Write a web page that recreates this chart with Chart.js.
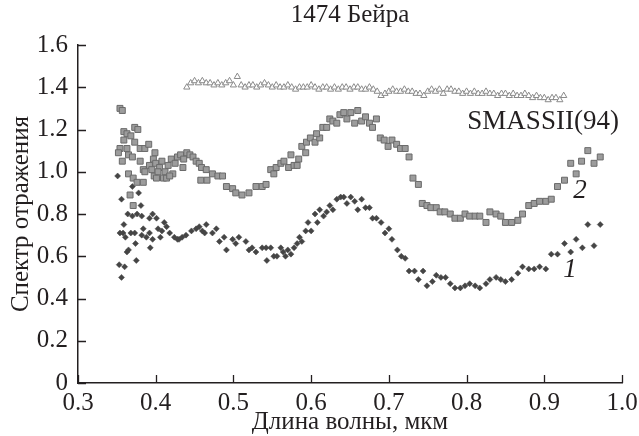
<!DOCTYPE html>
<html>
<head>
<meta charset="utf-8">
<script src="https://cdn.jsdelivr.net/npm/chart.js"></script>
<style>
  body { margin: 0; background: #fff; }
</style>
</head>
<body>
<canvas id="myChart" width="639" height="436"></canvas>
<script>
// SMASSII(94) spectrum (triangles)
const smassWl = [0.440, 0.445, 0.450, 0.455, 0.460, 0.465, 0.470, 0.475, 0.480, 0.485,
  0.490, 0.495, 0.500, 0.505, 0.510, 0.515, 0.520, 0.525, 0.530, 0.535,
  0.540, 0.545, 0.550, 0.555, 0.560, 0.565, 0.570, 0.575, 0.580, 0.585,
  0.590, 0.595, 0.600, 0.605, 0.610, 0.615, 0.620, 0.625, 0.630, 0.635,
  0.640, 0.645, 0.650, 0.655, 0.660, 0.665, 0.670, 0.675, 0.680, 0.685,
  0.690, 0.695, 0.700, 0.705, 0.710, 0.715, 0.720, 0.725, 0.730, 0.735,
  0.740, 0.745, 0.750, 0.755, 0.760, 0.765, 0.770, 0.775, 0.780, 0.785,
  0.790, 0.795, 0.800, 0.805, 0.810, 0.815, 0.820, 0.825, 0.830, 0.835,
  0.840, 0.845, 0.850, 0.855, 0.860, 0.865, 0.870, 0.875, 0.880, 0.885,
  0.890, 0.895, 0.900, 0.905, 0.910, 0.915, 0.920, 0.925];
const smassRefl = [1.40, 1.42, 1.43, 1.42, 1.43, 1.42, 1.42, 1.41, 1.42, 1.41,
  1.42, 1.43, 1.41, 1.45, 1.41, 1.40, 1.41, 1.41, 1.40, 1.41,
  1.42, 1.41, 1.40, 1.41, 1.40, 1.40, 1.41, 1.40, 1.39, 1.40,
  1.40, 1.40, 1.41, 1.40, 1.39, 1.40, 1.40, 1.39, 1.40, 1.39,
  1.40, 1.40, 1.39, 1.40, 1.40, 1.39, 1.39, 1.40, 1.39, 1.38,
  1.36, 1.37, 1.38, 1.39, 1.38, 1.38, 1.39, 1.38, 1.38, 1.37,
  1.37, 1.36, 1.38, 1.39, 1.38, 1.39, 1.37, 1.39, 1.39, 1.38,
  1.38, 1.37, 1.38, 1.37, 1.38, 1.37, 1.37, 1.38, 1.37, 1.37,
  1.36, 1.37, 1.37, 1.36, 1.37, 1.36, 1.36, 1.37, 1.36, 1.35,
  1.36, 1.35, 1.35, 1.34, 1.35, 1.35, 1.34, 1.36];

// series 2 (grey squares)
const wl2 = [0.354, 0.357, 0.359, 0.363, 0.368, 0.373, 0.377, 0.359, 0.373, 0.354,
  0.352, 0.363, 0.365, 0.370, 0.380, 0.386, 0.391, 0.399, 0.397, 0.357,
  0.380, 0.384, 0.386, 0.398, 0.401, 0.410, 0.414, 0.422, 0.435, 0.365,
  0.371, 0.376, 0.384, 0.367, 0.371, 0.392, 0.395, 0.400, 0.405, 0.408,
  0.412, 0.416, 0.420, 0.425, 0.428, 0.432, 0.436, 0.440, 0.444, 0.448,
  0.452, 0.456, 0.459, 0.465, 0.458, 0.466, 0.403, 0.418,
  0.473, 0.480, 0.486, 0.491, 0.499, 0.503, 0.511, 0.520, 0.529, 0.537, 0.542,
  0.548, 0.552, 0.555, 0.561, 0.565, 0.571, 0.578, 0.582, 0.574, 0.584,
  0.588, 0.593, 0.594, 0.599, 0.605, 0.611, 0.607, 0.615, 0.620, 0.624,
  0.628, 0.633, 0.637, 0.642, 0.646, 0.651, 0.656, 0.660, 0.665, 0.670,
  0.675, 0.679, 0.684, 0.689, 0.694, 0.699, 0.704, 0.710, 0.715, 0.721,
  0.726, 0.731, 0.738, 0.743, 0.749, 0.754, 0.761,
  0.766, 0.772, 0.779, 0.785, 0.792, 0.798, 0.804, 0.811, 0.817, 0.825,
  0.830, 0.838, 0.844, 0.850, 0.858, 0.866, 0.872, 0.880, 0.887, 0.894,
  0.902, 0.909, 0.917, 0.926, 0.934, 0.941, 0.948, 0.956, 0.964, 0.972];
const refl2 = [1.30, 1.29, 1.19, 1.18, 1.17, 1.21, 1.20, 1.15, 1.14, 1.11,
  1.09, 1.11, 1.08, 1.07, 1.11, 1.11, 1.13, 1.09, 1.06, 1.05,
  1.05, 1.01, 1.00, 0.98, 0.97, 0.97, 0.97, 0.99, 1.02, 0.99,
  0.97, 0.95, 0.95, 0.89, 0.84, 1.03, 1.01, 1.04, 1.02, 1.05,
  1.00, 1.03, 1.06, 1.04, 1.07, 1.08, 1.06, 1.09, 1.08, 1.07,
  1.05, 1.04, 1.02, 1.01, 0.96, 0.96, 1.00, 0.98,
  0.99, 0.98, 0.98, 0.93, 0.92, 0.90, 0.89, 0.90, 0.93, 0.93, 0.94,
  1.01, 0.99, 1.02, 1.04, 1.05, 1.02, 1.03, 1.03, 1.08, 1.06,
  1.12, 1.09, 1.14, 1.16, 1.14, 1.16, 1.18, 1.21, 1.21, 1.25,
  1.24, 1.23, 1.27, 1.28, 1.25, 1.28, 1.23, 1.29, 1.24, 1.26,
  1.23, 1.21, 1.25, 1.16, 1.15, 1.12, 1.15, 1.13, 1.11, 1.11,
  1.07, 0.97, 0.94, 0.85, 0.84, 0.83, 0.83,
  0.81, 0.81, 0.80, 0.78, 0.78, 0.80, 0.79, 0.79, 0.79, 0.76,
  0.81, 0.80, 0.79, 0.76, 0.76, 0.77, 0.80, 0.84, 0.85, 0.86,
  0.86, 0.87, 0.93, 0.96, 1.04, 0.99, 1.05, 1.10, 1.04, 1.07];

// series 1 (dark diamonds)
const wl1 = [0.351, 0.370, 0.378, 0.356, 0.381, 0.364, 0.370, 0.376, 0.382, 0.359,
  0.392, 0.396, 0.401, 0.354, 0.358, 0.361, 0.368, 0.373, 0.384, 0.382,
  0.388, 0.392, 0.374, 0.396, 0.393, 0.363, 0.365, 0.375, 0.353, 0.360,
  0.356, 0.403, 0.406, 0.408, 0.411, 0.414, 0.418, 0.424, 0.428, 0.430,
  0.434, 0.439, 0.446, 0.452, 0.456, 0.460, 0.463, 0.465, 0.473, 0.478,
  0.482, 0.488, 0.491, 0.499, 0.503, 0.507, 0.516, 0.520, 0.524, 0.529,
  0.537, 0.542, 0.543, 0.548, 0.552, 0.556, 0.561, 0.564, 0.567, 0.570,
  0.574, 0.578, 0.582, 0.585, 0.588, 0.593, 0.596, 0.600, 0.605, 0.608,
  0.611, 0.616, 0.620, 0.624, 0.628, 0.633, 0.638, 0.642, 0.646, 0.651,
  0.656, 0.660, 0.665, 0.670, 0.675, 0.679, 0.684, 0.690, 0.695, 0.700,
  0.704, 0.711, 0.716, 0.721, 0.726, 0.733, 0.738, 0.744, 0.749, 0.756,
  0.761, 0.767, 0.773, 0.779, 0.785, 0.792, 0.798, 0.804, 0.811, 0.817,
  0.825, 0.830, 0.838, 0.844, 0.850, 0.858, 0.866, 0.872, 0.880, 0.887,
  0.894, 0.902, 0.909, 0.917, 0.926, 0.934, 0.941, 0.949, 0.956, 0.964, 0.972];
const refl1 = [0.98, 0.93, 0.90, 0.87, 0.84, 0.80, 0.79, 0.80, 0.79, 0.75,
  0.78, 0.80, 0.78, 0.71, 0.71, 0.69, 0.71, 0.71, 0.73, 0.70,
  0.69, 0.71, 0.66, 0.68, 0.64, 0.62, 0.63, 0.58, 0.56, 0.55,
  0.50, 0.73, 0.69, 0.72, 0.76, 0.74, 0.71, 0.69, 0.68, 0.68,
  0.69, 0.70, 0.72, 0.73, 0.74, 0.72, 0.71, 0.75, 0.71, 0.73,
  0.67, 0.69, 0.63, 0.68, 0.66, 0.69, 0.67, 0.63, 0.64, 0.62,
  0.64, 0.64, 0.58, 0.64, 0.60, 0.60, 0.64, 0.62, 0.60, 0.63,
  0.61, 0.64, 0.66, 0.69, 0.67, 0.72, 0.76, 0.72, 0.80, 0.76,
  0.82, 0.79, 0.81, 0.84, 0.82, 0.87, 0.88, 0.88, 0.85, 0.88,
  0.86, 0.82, 0.87, 0.83, 0.83, 0.78, 0.78, 0.76, 0.71, 0.73,
  0.68, 0.63, 0.60, 0.59, 0.53, 0.53, 0.49, 0.53, 0.46, 0.48,
  0.51, 0.50, 0.50, 0.47, 0.45, 0.45, 0.46, 0.47, 0.46, 0.45,
  0.47, 0.49, 0.50, 0.49, 0.48, 0.49, 0.52, 0.55, 0.54, 0.54,
  0.55, 0.54, 0.61, 0.61, 0.66, 0.62, 0.68, 0.64, 0.75, 0.65, 0.75];

const xTicks = [0.3, 0.4, 0.5, 0.6, 0.7, 0.8, 0.9, 1.0];
const yTicks = [0, 0.2, 0.4, 0.6, 0.8, 1.0, 1.2, 1.4, 1.6];

// text labels placed on the plot, in data units
const notes = [
  { text: "SMASSII(94)", x: 0.801, y: 1.235, italic: false, align: "left" },
  { text: "2", x: 0.946, y: 0.91, italic: true, align: "center" },
  { text: "1", x: 0.933, y: 0.535, italic: true, align: "center" },
];

const serif = "'Liberation Serif', 'Times New Roman', serif";
const ink = "#231f20";

const toPoints = (xs, ys) => xs.map((x, i) => ({ x: x, y: ys[i] }));

// short tick marks drawn inward + text labels
const extras = {
  id: "extras",
  afterDraw(chart) {
    const ctx = chart.ctx;
    const { x, y } = chart.scales;
    ctx.save();
    ctx.strokeStyle = ink;
    ctx.lineWidth = 1.3;
    ctx.beginPath();
    xTicks.forEach((t) => {
      const px = Math.round(x.getPixelForValue(t)) + 0.5;
      ctx.moveTo(px, y.bottom);
      ctx.lineTo(px, y.bottom - 8);
    });
    yTicks.forEach((t) => {
      const py = Math.round(y.getPixelForValue(t)) + 0.5;
      ctx.moveTo(x.left, py);
      ctx.lineTo(x.left + 8, py);
    });
    ctx.stroke();

    ctx.fillStyle = ink;
    ctx.textBaseline = "middle";
    notes.forEach((n) => {
      ctx.font = (n.italic ? "italic " : "") + "27px " + serif;
      ctx.textAlign = n.align;
      ctx.fillText(n.text, x.getPixelForValue(n.x), y.getPixelForValue(n.y));
    });
    ctx.restore();
  },
};

const ctx = document.getElementById("myChart").getContext("2d");
new Chart(ctx, {
  type: "scatter",
  data: {
    datasets: [
      {
        label: "SMASSII(94)",
        data: toPoints(smassWl, smassRefl),
        pointStyle: "triangle",
        radius: 3.6,
        backgroundColor: "#ffffff",
        borderColor: "#8a8a8a",
        borderWidth: 1,
      },
      {
        label: "2",
        data: toPoints(wl2, refl2),
        pointStyle: "rect",
        radius: 4.2,
        backgroundColor: "#9c9c9c",
        borderColor: "#6a6a6a",
        borderWidth: 1,
      },
      {
        label: "1",
        data: toPoints(wl1, refl1),
        pointStyle: "rectRot",
        radius: 3,
        backgroundColor: "#454545",
        borderColor: "#454545",
        borderWidth: 0.5,
      },
    ],
  },
  options: {
    responsive: false,
    animation: false,
    layout: { padding: { left: 0, right: 0, top: 0, bottom: 0 } },
    plugins: {
      legend: { display: false },
      tooltip: { enabled: false },
      title: {
        display: true,
        fullSize: false,
        text: "1474 Бейра",
        color: ink,
        font: { family: serif, size: 25, weight: "normal", lineHeight: 1.2 },
        padding: { top: 0, bottom: 15 },
      },
    },
    scales: {
      x: {
        type: "linear",
        min: 0.3,
        max: 1.0,
        afterBuildTicks: (s) => { s.ticks = xTicks.map((v) => ({ value: v })); },
        afterFit: (s) => { s.height = 53; s.paddingRight = 17; },
        grid: { display: false, drawTicks: false },
        border: { display: true, color: ink, width: 1.5 },
        ticks: {
          color: ink,
          padding: 8,
          font: { family: serif, size: 25, lineHeight: 1 },
          callback: (v) => v.toFixed(1),
        },
        title: {
          display: true,
          text: "Длина волны, мкм",
          color: ink,
          font: { family: serif, size: 25, lineHeight: 1.1 },
          padding: { top: 0, bottom: 0 },
        },
      },
      y: {
        type: "linear",
        min: 0,
        max: 1.6,
        afterBuildTicks: (s) => { s.ticks = yTicks.map((v) => ({ value: v })); },
        afterFit: (s) => { s.width = 78; },
        grid: { display: false, drawTicks: false },
        border: { display: true, color: ink, width: 1.5 },
        ticks: {
          color: ink,
          padding: 10,
          font: { family: serif, size: 25 },
          callback: (v) => (v === 0 ? "0" : v.toFixed(1)),
        },
        title: {
          display: true,
          text: "Спектр отражения",
          color: ink,
          font: { family: serif, size: 25 },
          padding: { top: 6, bottom: 0 },
        },
      },
    },
  },
  plugins: [extras],
});
</script>
</body>
</html>
